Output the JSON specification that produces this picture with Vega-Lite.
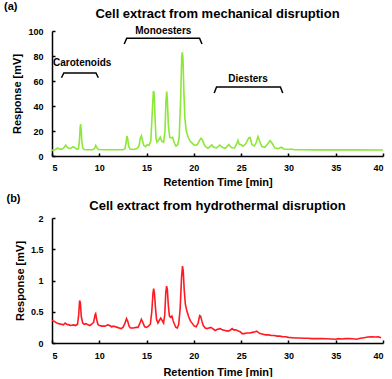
{
  "$schema": "https://vega.github.io/schema/vega-lite/v6.json",
  "background": "white",
  "padding": {"left": 3, "top": 0, "right": 2, "bottom": 0},
  "spacing": 6,
  "config": {
    "font": "Liberation Sans",
    "view": {"stroke": null},
    "axis": {
      "grid": false,
      "domainColor": "black",
      "domainWidth": 1.5,
      "tickColor": "black",
      "tickWidth": 1.5,
      "tickSize": -3,
      "labelOverlap": false,
      "labelFont": "Liberation Sans",
      "labelFontWeight": "bold",
      "labelFontSize": 9,
      "labelColor": "black",
      "titleFont": "Liberation Sans",
      "titleFontWeight": "bold",
      "titleFontSize": 11,
      "titleColor": "black"
    },
    "title": {"font": "Liberation Sans", "fontWeight": "bold", "color": "black"}
  },
  "datasets": {
    "traceA": [
      {"t": 5.0, "r": 4.5}, {"t": 5.3, "r": 5.0}, {"t": 5.5, "r": 5.8}, {"t": 5.6, "r": 6.5}, {"t": 5.7, "r": 5.8},
      {"t": 5.9, "r": 5.5}, {"t": 6.1, "r": 5.6}, {"t": 6.3, "r": 7.0}, {"t": 6.45, "r": 8.6}, {"t": 6.6, "r": 7.0},
      {"t": 6.8, "r": 6.0}, {"t": 7.0, "r": 6.2}, {"t": 7.2, "r": 7.3}, {"t": 7.4, "r": 6.8}, {"t": 7.6, "r": 5.5},
      {"t": 7.8, "r": 5.8}, {"t": 7.9, "r": 12}, {"t": 7.97, "r": 22}, {"t": 8.02, "r": 25.5}, {"t": 8.08, "r": 22},
      {"t": 8.15, "r": 12}, {"t": 8.25, "r": 6.5}, {"t": 8.4, "r": 5.2}, {"t": 8.8, "r": 5.0}, {"t": 9.3, "r": 5.0},
      {"t": 9.5, "r": 6.0}, {"t": 9.62, "r": 8.4}, {"t": 9.75, "r": 6.5}, {"t": 9.9, "r": 5.2}, {"t": 10.5, "r": 5.0},
      {"t": 11.5, "r": 5.0}, {"t": 12.5, "r": 5.0}, {"t": 12.7, "r": 5.6}, {"t": 12.82, "r": 10}, {"t": 12.92, "r": 16},
      {"t": 13.0, "r": 14}, {"t": 13.1, "r": 8}, {"t": 13.25, "r": 5.5}, {"t": 13.6, "r": 5.2}, {"t": 14.0, "r": 6.0},
      {"t": 14.2, "r": 8}, {"t": 14.35, "r": 14.5}, {"t": 14.45, "r": 16.2}, {"t": 14.55, "r": 13}, {"t": 14.7, "r": 8.5},
      {"t": 14.9, "r": 7.5}, {"t": 15.1, "r": 9}, {"t": 15.25, "r": 8.5}, {"t": 15.45, "r": 12}, {"t": 15.6, "r": 35},
      {"t": 15.72, "r": 52}, {"t": 15.8, "r": 50}, {"t": 15.9, "r": 30}, {"t": 16.0, "r": 14}, {"t": 16.1, "r": 11},
      {"t": 16.3, "r": 13}, {"t": 16.45, "r": 15}, {"t": 16.6, "r": 12}, {"t": 16.8, "r": 11}, {"t": 16.95, "r": 20},
      {"t": 17.05, "r": 44}, {"t": 17.13, "r": 51.5}, {"t": 17.2, "r": 45}, {"t": 17.3, "r": 25}, {"t": 17.45, "r": 15},
      {"t": 17.6, "r": 14.5}, {"t": 17.75, "r": 15}, {"t": 17.9, "r": 11}, {"t": 18.1, "r": 8}, {"t": 18.3, "r": 9},
      {"t": 18.45, "r": 15}, {"t": 18.6, "r": 45}, {"t": 18.72, "r": 80}, {"t": 18.78, "r": 83}, {"t": 18.85, "r": 78},
      {"t": 18.95, "r": 50}, {"t": 19.05, "r": 30}, {"t": 19.2, "r": 20}, {"t": 19.4, "r": 15}, {"t": 19.6, "r": 12},
      {"t": 19.8, "r": 10.5}, {"t": 20.0, "r": 9}, {"t": 20.2, "r": 8.5}, {"t": 20.4, "r": 9.5}, {"t": 20.6, "r": 12.5},
      {"t": 20.75, "r": 14.2}, {"t": 20.9, "r": 13}, {"t": 21.1, "r": 9}, {"t": 21.3, "r": 7}, {"t": 21.5, "r": 6.2},
      {"t": 21.7, "r": 7.5}, {"t": 21.9, "r": 8.8}, {"t": 22.1, "r": 7}, {"t": 22.4, "r": 6.5}, {"t": 22.75, "r": 8.8},
      {"t": 23.0, "r": 7}, {"t": 23.3, "r": 6.2}, {"t": 23.5, "r": 7.5}, {"t": 23.7, "r": 9.2}, {"t": 23.95, "r": 6.8},
      {"t": 24.3, "r": 6.5}, {"t": 24.55, "r": 10}, {"t": 24.67, "r": 12.5}, {"t": 24.8, "r": 9.5}, {"t": 25.0, "r": 9},
      {"t": 25.2, "r": 7.8}, {"t": 25.5, "r": 10}, {"t": 25.8, "r": 14.5}, {"t": 25.95, "r": 14.8}, {"t": 26.15, "r": 9},
      {"t": 26.4, "r": 8}, {"t": 26.6, "r": 11}, {"t": 26.78, "r": 15.5}, {"t": 26.95, "r": 12}, {"t": 27.2, "r": 7.5},
      {"t": 27.5, "r": 7}, {"t": 27.8, "r": 9.5}, {"t": 28.05, "r": 12.3}, {"t": 28.3, "r": 10}, {"t": 28.55, "r": 6.5},
      {"t": 28.9, "r": 5.8}, {"t": 29.25, "r": 7}, {"t": 29.5, "r": 5.6}, {"t": 30.0, "r": 5.2}, {"t": 30.3, "r": 5.6},
      {"t": 30.6, "r": 5.0}, {"t": 31.5, "r": 5.0}, {"t": 33, "r": 4.9}, {"t": 35, "r": 4.9}, {"t": 37, "r": 4.9},
      {"t": 40, "r": 4.8}
    ],
    "traceB": [
      {"t": 5.0, "r": 0.36}, {"t": 5.2, "r": 0.35}, {"t": 5.4, "r": 0.33}, {"t": 5.7, "r": 0.31}, {"t": 6.0, "r": 0.30},
      {"t": 6.2, "r": 0.29}, {"t": 6.4, "r": 0.32}, {"t": 6.55, "r": 0.30}, {"t": 6.8, "r": 0.29}, {"t": 7.0, "r": 0.28},
      {"t": 7.3, "r": 0.29}, {"t": 7.5, "r": 0.28}, {"t": 7.7, "r": 0.30}, {"t": 7.82, "r": 0.45}, {"t": 7.92, "r": 0.68},
      {"t": 8.0, "r": 0.64}, {"t": 8.1, "r": 0.42}, {"t": 8.25, "r": 0.32}, {"t": 8.4, "r": 0.30}, {"t": 8.6, "r": 0.31},
      {"t": 8.8, "r": 0.29}, {"t": 9.0, "r": 0.28}, {"t": 9.2, "r": 0.30}, {"t": 9.4, "r": 0.33}, {"t": 9.55, "r": 0.45},
      {"t": 9.62, "r": 0.47}, {"t": 9.72, "r": 0.38}, {"t": 9.85, "r": 0.30}, {"t": 10.0, "r": 0.28}, {"t": 10.3, "r": 0.27},
      {"t": 10.6, "r": 0.27}, {"t": 10.9, "r": 0.29}, {"t": 11.1, "r": 0.28}, {"t": 11.3, "r": 0.26}, {"t": 11.5, "r": 0.27},
      {"t": 11.7, "r": 0.26}, {"t": 11.9, "r": 0.25}, {"t": 12.1, "r": 0.24}, {"t": 12.3, "r": 0.23}, {"t": 12.5, "r": 0.25},
      {"t": 12.7, "r": 0.31}, {"t": 12.88, "r": 0.39}, {"t": 13.0, "r": 0.35}, {"t": 13.15, "r": 0.27}, {"t": 13.3, "r": 0.24},
      {"t": 13.6, "r": 0.24}, {"t": 13.9, "r": 0.25}, {"t": 14.1, "r": 0.25}, {"t": 14.3, "r": 0.32}, {"t": 14.45, "r": 0.38},
      {"t": 14.6, "r": 0.33}, {"t": 14.8, "r": 0.26}, {"t": 15.0, "r": 0.25}, {"t": 15.2, "r": 0.27}, {"t": 15.4, "r": 0.30},
      {"t": 15.55, "r": 0.50}, {"t": 15.68, "r": 0.80}, {"t": 15.75, "r": 0.87}, {"t": 15.83, "r": 0.80}, {"t": 15.95, "r": 0.55},
      {"t": 16.05, "r": 0.38}, {"t": 16.2, "r": 0.32}, {"t": 16.35, "r": 0.36}, {"t": 16.5, "r": 0.40}, {"t": 16.65, "r": 0.36},
      {"t": 16.8, "r": 0.32}, {"t": 16.92, "r": 0.45}, {"t": 17.03, "r": 0.80}, {"t": 17.12, "r": 0.91}, {"t": 17.2, "r": 0.85},
      {"t": 17.3, "r": 0.60}, {"t": 17.42, "r": 0.43}, {"t": 17.55, "r": 0.41}, {"t": 17.68, "r": 0.43}, {"t": 17.8, "r": 0.36},
      {"t": 17.95, "r": 0.30}, {"t": 18.1, "r": 0.25}, {"t": 18.25, "r": 0.24}, {"t": 18.4, "r": 0.30}, {"t": 18.55, "r": 0.55},
      {"t": 18.7, "r": 1.05}, {"t": 18.8, "r": 1.23}, {"t": 18.88, "r": 1.15}, {"t": 18.98, "r": 0.85}, {"t": 19.1, "r": 0.62},
      {"t": 19.25, "r": 0.52}, {"t": 19.45, "r": 0.42}, {"t": 19.65, "r": 0.35}, {"t": 19.85, "r": 0.31}, {"t": 20.05, "r": 0.27},
      {"t": 20.25, "r": 0.26}, {"t": 20.45, "r": 0.32}, {"t": 20.62, "r": 0.44}, {"t": 20.72, "r": 0.43}, {"t": 20.85, "r": 0.35},
      {"t": 21.0, "r": 0.28}, {"t": 21.2, "r": 0.24}, {"t": 21.4, "r": 0.23}, {"t": 21.6, "r": 0.24}, {"t": 21.8, "r": 0.25},
      {"t": 22.0, "r": 0.23}, {"t": 22.25, "r": 0.20}, {"t": 22.5, "r": 0.22}, {"t": 22.8, "r": 0.23}, {"t": 23.0, "r": 0.21},
      {"t": 23.3, "r": 0.20}, {"t": 23.6, "r": 0.19}, {"t": 23.8, "r": 0.20}, {"t": 24.05, "r": 0.23}, {"t": 24.2, "r": 0.21},
      {"t": 24.45, "r": 0.21}, {"t": 24.7, "r": 0.19}, {"t": 24.9, "r": 0.18}, {"t": 25.1, "r": 0.15}, {"t": 25.3, "r": 0.15},
      {"t": 25.6, "r": 0.16}, {"t": 25.9, "r": 0.16}, {"t": 26.2, "r": 0.17}, {"t": 26.5, "r": 0.18}, {"t": 26.65, "r": 0.19},
      {"t": 26.8, "r": 0.17}, {"t": 27.0, "r": 0.15}, {"t": 27.3, "r": 0.14}, {"t": 27.6, "r": 0.13}, {"t": 27.9, "r": 0.13},
      {"t": 28.2, "r": 0.12}, {"t": 28.5, "r": 0.12}, {"t": 28.8, "r": 0.11}, {"t": 29.1, "r": 0.11}, {"t": 29.4, "r": 0.10},
      {"t": 29.7, "r": 0.10}, {"t": 30.0, "r": 0.09}, {"t": 30.4, "r": 0.085}, {"t": 30.8, "r": 0.08}, {"t": 31.2, "r": 0.08},
      {"t": 31.6, "r": 0.075}, {"t": 32.0, "r": 0.075}, {"t": 32.5, "r": 0.07}, {"t": 33.0, "r": 0.07}, {"t": 33.5, "r": 0.07},
      {"t": 34.0, "r": 0.068}, {"t": 34.5, "r": 0.065}, {"t": 35.0, "r": 0.06}, {"t": 35.3, "r": 0.07}, {"t": 35.6, "r": 0.065},
      {"t": 36.0, "r": 0.07}, {"t": 36.4, "r": 0.07}, {"t": 36.8, "r": 0.068}, {"t": 37.2, "r": 0.06}, {"t": 37.6, "r": 0.075},
      {"t": 38.0, "r": 0.085}, {"t": 38.4, "r": 0.095}, {"t": 38.8, "r": 0.10}, {"t": 39.2, "r": 0.095}, {"t": 39.5, "r": 0.10},
      {"t": 39.8, "r": 0.085}
    ],
    "brackets": [
      {"id": "c", "t": 6.0, "r": 62.6}, {"id": "c", "t": 6.25, "r": 66.4}, {"id": "c", "t": 9.65, "r": 66.4}, {"id": "c", "t": 9.9, "r": 62.6},
      {"id": "m", "t": 12.64, "r": 89.6}, {"id": "m", "t": 12.9, "r": 94.2}, {"id": "m", "t": 20.6, "r": 94.2}, {"id": "m", "t": 20.86, "r": 89.6},
      {"id": "d", "t": 22.15, "r": 50.4}, {"id": "d", "t": 22.4, "r": 55.2}, {"id": "d", "t": 29.15, "r": 55.2}, {"id": "d", "t": 29.4, "r": 50.4}
    ],
    "labels": [
      {"label": "Carotenoids", "t": 8.2, "r": 74.2},
      {"label": "Monoesters", "t": 16.77, "r": 100.3},
      {"label": "Diesters", "t": 25.73, "r": 61.6}
    ]
  },
  "vconcat": [
    {
      "title": {"text": "(a)", "anchor": "start", "frame": "bounds", "fontSize": 11, "offset": -4, "dx": -8},
      "vconcat": [
        {
          "width": 331,
          "height": 125,
          "title": {"text": "Cell extract from mechanical disruption", "fontSize": 13, "offset": 5},
          "encoding": {
            "x": {"field": "t", "type": "quantitative", "scale": {"domain": [5, 40], "nice": false},
                  "axis": {"title": "Retention Time [min]", "values": [5, 10, 15, 20, 25, 30, 35, 40], "labelOverlap": false, "labelPadding": 10, "titlePadding": 4}},
            "y": {"field": "r", "type": "quantitative", "scale": {"domain": [0, 100], "nice": false},
                  "axis": {"title": "Response [mV]", "values": [0, 20, 40, 60, 80, 100], "format": "d", "labelOverlap": false, "labelPadding": 12, "titlePadding": 5}}
          },
          "layer": [
            {
              "data": {"name": "traceA"},
              "mark": {"type": "line", "color": "#8BE836", "strokeWidth": 1.6}
            },
            {
              "data": {"name": "brackets"},
              "mark": {"type": "line", "color": "black", "strokeWidth": 1.5},
              "encoding": {"detail": {"field": "id"}}
            },
            {
              "data": {"name": "labels"},
              "mark": {"type": "text", "fontWeight": "bold", "fontSize": 10, "font": "Liberation Sans", "color": "black"},
              "encoding": {"text": {"field": "label"}}
            }
          ]
        }
      ]
    },
    {
      "title": {"text": "(b)", "anchor": "start", "frame": "bounds", "fontSize": 11, "offset": -4, "dx": -8},
      "vconcat": [
        {
          "width": 331,
          "height": 125,
          "title": {"text": "Cell extract from hydrothermal disruption", "fontSize": 13, "offset": 1},
          "data": {"name": "traceB"},
          "mark": {"type": "line", "color": "#FF1A22", "strokeWidth": 1.6},
          "encoding": {
            "x": {"field": "t", "type": "quantitative", "scale": {"domain": [5, 40], "nice": false},
                  "axis": {"title": "Retention Time [min]", "values": [5, 10, 15, 20, 25, 30, 35, 40], "labelOverlap": false, "labelPadding": 11, "titlePadding": 6}},
            "y": {"field": "r", "type": "quantitative", "scale": {"domain": [0, 2], "nice": false},
                  "axis": {"title": "Response [mV]", "values": [0, 0.5, 1, 1.5, 2], "format": "~g", "labelOverlap": false, "labelPadding": 12, "titlePadding": 5}}
          }
        }
      ]
    }
  ]
}
